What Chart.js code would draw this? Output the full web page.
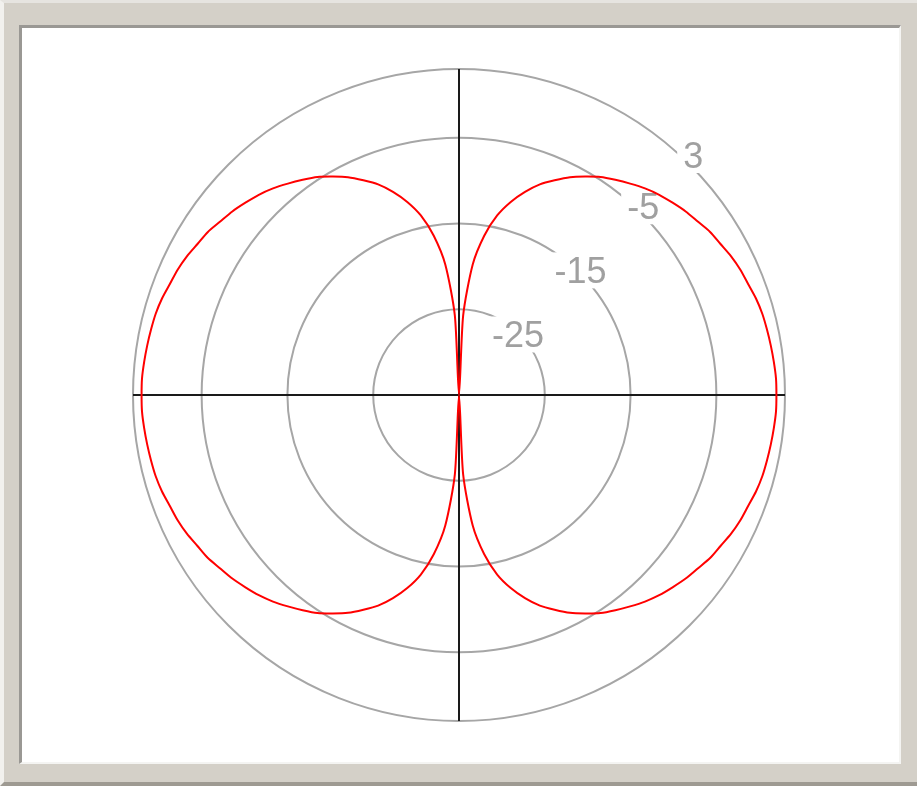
<!DOCTYPE html>
<html>
<head>
<meta charset="utf-8">
<script src="https://cdn.jsdelivr.net/npm/chart.js@4.4.1/dist/chart.umd.min.js"></script>
<style>
  html, body { margin: 0; padding: 0; }
  body { width: 917px; height: 786px; overflow: hidden; }
  .win {
    position: absolute; left: 0; top: 0;
    width: 917px; height: 786px; box-sizing: border-box;
    background: #d4d0c8;
    border-top: 3px solid #e6e4e0;
    border-left: 4px solid #f2f1ee;
    border-bottom: 4px solid #9e9a92;
  }
  .panel {
    position: absolute; left: 19px; top: 25px;
    width: 877px; height: 734px;
    background: #fff;
    border-left: 3px solid #9a9894;
    border-top: 3px solid #9a9894;
    border-right: 2px solid #f4f4f2;
    border-bottom: 2px solid #f4f4f2;
  }
  canvas { display: block; }
</style>
</head>
<body>
<div class="win"></div>
<div class="panel"><canvas id="polar" width="877" height="734"></canvas></div>
<script>
// angle in degrees, clockwise from the top
const angles = [
  0, 3, 6, 9, 12, 15, 18, 21, 24, 27, 30, 33, 36, 39, 42, 45, 48, 51, 54, 57,
  60, 63, 66, 69, 72, 75, 78, 81, 84, 87, 90, 93, 96, 99, 102, 105, 108, 111, 114, 117,
  120, 123, 126, 129, 132, 135, 138, 141, 144, 147, 150, 153, 156, 159, 162, 165, 168, 171, 174, 177,
  180, 183, 186, 189, 192, 195, 198, 201, 204, 207, 210, 213, 216, 219, 222, 225, 228, 231, 234, 237,
  240, 243, 246, 249, 252, 255, 258, 261, 264, 267, 270, 273, 276, 279, 282, 285, 288, 291, 294, 297,
  300, 303, 306, 309, 312, 315, 318, 321, 324, 327, 330, 333, 336, 339, 342, 345, 348, 351, 354, 357
];

// gain in dB
const gainDb = [
  -35, -25.7, -19.7, -16.2, -13.6, -11.7, -10.1, -8.7, -7.6, -6.5,
  -5.6, -4.7, -4.0, -3.3, -2.6, -2.0, -1.5, -1.0, -0.6, -0.1,
  0.2, 0.6, 0.9, 1.1, 1.4, 1.6, 1.7, 1.8, 1.9, 2.0, 2.0,
  2.0, 1.9, 1.8, 1.7, 1.6, 1.4, 1.1, 0.9, 0.6, 0.2,
  -0.1, -0.6, -1.0, -1.5, -2.0, -2.6, -3.3, -4.0, -4.7, -5.6,
  -6.5, -7.6, -8.7, -10.1, -11.7, -13.6, -16.2, -19.7, -25.7,
  -35, -25.7, -19.7, -16.2, -13.6, -11.7, -10.1, -8.7, -7.6, -6.5,
  -5.6, -4.7, -4.0, -3.3, -2.6, -2.0, -1.5, -1.0, -0.6, -0.1,
  0.2, 0.6, 0.9, 1.1, 1.4, 1.6, 1.7, 1.8, 1.9, 2.0, 2.0,
  2.0, 1.9, 1.8, 1.7, 1.6, 1.4, 1.1, 0.9, 0.6, 0.2,
  -0.1, -0.6, -1.0, -1.5, -2.0, -2.6, -3.3, -4.0, -4.7, -5.6,
  -6.5, -7.6, -8.7, -10.1, -11.7, -13.6, -16.2, -19.7, -25.7
];

const ringValues = [-35, -25, -15, -5, 3];
const ringLabels = ["", "-25", "-15", "-5", "3"];

const ringText = {
  id: "ringText",
  beforeDatasetsDraw(chart) {
    const scale = chart.scales.r;
    const ctx = chart.ctx;
    ctx.save();
    ctx.font = '36px "Liberation Sans", Arial, sans-serif';
    ctx.textAlign = "center";
    ctx.textBaseline = "alphabetic";
    const ang = -Math.PI / 2 + 44.3 * Math.PI / 180;
    for (let i = 0; i < ringValues.length; i++) {
      if (!ringLabels[i]) continue;
      const r = scale.getDistanceFromCenterForValue(ringValues[i]) * 1.044 - 5;
      const x = scale.xCenter + Math.cos(ang) * r;
      const y = scale.yCenter + Math.sin(ang) * r;
      const w = ctx.measureText(ringLabels[i]).width + 12;
      ctx.fillStyle = "#ffffff";
      ctx.fillRect(x - w / 2, y - 18, w, 36);
      ctx.fillStyle = "#a0a0a0";
      ctx.fillText(ringLabels[i], x, y + 13);
    }
    ctx.restore();
  }
};

new Chart(document.getElementById("polar"), {
  type: "radar",
  data: {
    labels: angles,
    datasets: [{
      data: gainDb,
      borderColor: "#ff0000",
      backgroundColor: "rgba(0,0,0,0)",
      borderWidth: 2,
      pointRadius: 0,
      fill: false,
      tension: 0.25
    }]
  },
  options: {
    responsive: false,
    animation: false,
    layout: { padding: { left: 40, right: 42, top: 41, bottom: 41 } },
    plugins: { legend: { display: false }, tooltip: { enabled: false } },
    scales: {
      r: {
        min: -35,
        max: 3,
        afterBuildTicks: (s) => { s.ticks = ringValues.map(v => ({ value: v })); },
        ticks: { display: false },
        pointLabels: { display: false },
        grid: { circular: true, color: "#a6a6a6", lineWidth: 2 },
        angleLines: {
          display: true,
          color: "#1a1a1a",
          lineWidth: (c) => (c.index % 30 === 0 ? 2 : 0)
        }
      }
    }
  },
  plugins: [ringText]
});
</script>
</body>
</html>
